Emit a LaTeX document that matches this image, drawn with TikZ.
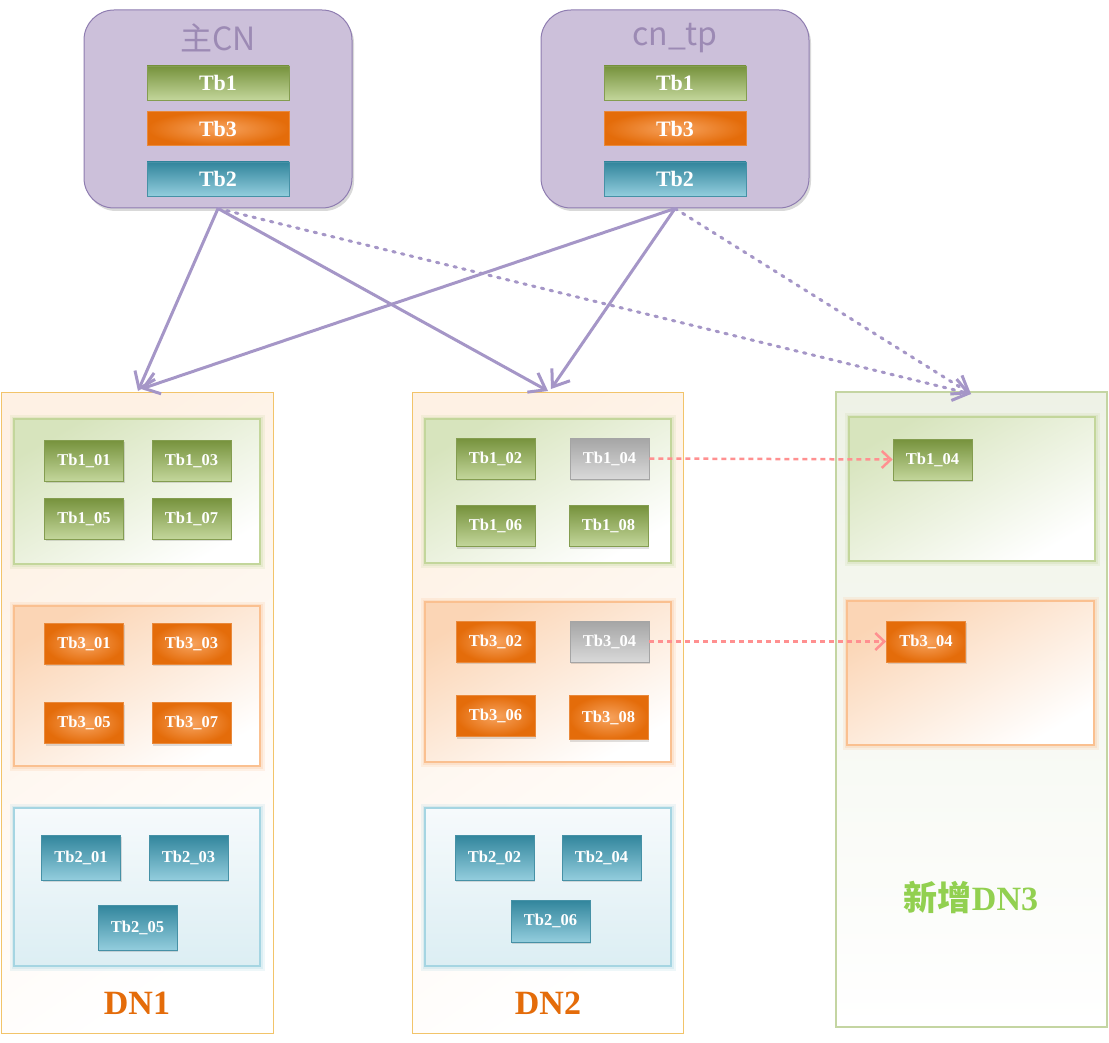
\documentclass[tikz,border=0pt]{standalone}
\usepackage{fontspec}
\setmainfont{Liberation Serif}
\newfontfamily\cjk{Noto Sans CJK SC}
\usetikzlibrary{arrows.meta,shadows}

% palette
\definecolor{cnfill}{HTML}{CCC0DA}
\definecolor{cnline}{HTML}{8E7CB0}
\definecolor{cntitle}{HTML}{9C8AB4}
\definecolor{link}{HTML}{A596C7}
\definecolor{move}{HTML}{FF9090}
\definecolor{gtop}{HTML}{76923C}
\definecolor{gbot}{HTML}{C3D69B}
\definecolor{oout}{HTML}{E46C0A}
\definecolor{oin}{HTML}{F7A35E}
\definecolor{btop}{HTML}{31859C}
\definecolor{bbot}{HTML}{93CDDD}
\definecolor{ytop}{HTML}{A5A5A5}
\definecolor{ybot}{HTML}{D9D9D9}
\definecolor{grpg}{HTML}{D7E4BD}
\definecolor{grpgline}{HTML}{C3D69B}
\definecolor{grpo}{HTML}{FBD5B5}
\definecolor{grpoline}{HTML}{FAC090}
\definecolor{grpbtop}{HTML}{F6FAFC}
\definecolor{grpbbot}{HTML}{DCEEF3}
\definecolor{grpbline}{HTML}{A5D5E2}
\definecolor{dnline}{HTML}{F2C46A}
\definecolor{dnfill}{HTML}{FEF1E4}
\definecolor{newline}{HTML}{C4D5A2}
\definecolor{newfill}{HTML}{EEF2E6}
\definecolor{dnlabel}{HTML}{E46C0A}
\definecolor{newlabel}{HTML}{92D050}

\begin{document}
\begin{tikzpicture}[x=1pt,y=-1pt,
  cnbox/.style={draw=cnline, line width=1pt, fill=cnfill, rounded corners=30pt,
    minimum width=268pt, minimum height=198pt, inner sep=0pt,
    drop shadow={shadow xshift=2pt, shadow yshift=-3pt, opacity=0.25, fill=black!60}},
  cntext/.style={text=cntitle, font=\cjk\fontsize{32}{32}\selectfont},
  bar/.style={minimum width=142pt, minimum height=34pt, inner sep=0pt,
    text=white, font=\bfseries\fontsize{22}{22}\selectfont},
  tbox/.style={minimum width=79pt, minimum height=41pt, inner sep=0pt,
    text=white, font=\bfseries\fontsize{16.5}{16.5}\selectfont,
    drop shadow={shadow xshift=1pt, shadow yshift=-2pt, opacity=0.12, fill=black}},
  green/.style={draw=gtop!90, line width=0.8pt, top color=gtop, bottom color=gbot},
  orange/.style={draw=oout!80, line width=0.8pt, inner color=oin, outer color=oout},
  blue/.style={draw=btop!90, line width=0.8pt, top color=btop, bottom color=bbot},
  grey/.style={draw=ytop, line width=0.8pt, top color=ytop, bottom color=ybot},
  dnframe/.style={draw=dnline, line width=1pt, top color=dnfill, bottom color=white,
    shading angle=35, minimum width=272pt, minimum height=641pt, inner sep=0pt},
  newframe/.style={draw=newline, line width=1.4pt, top color=newfill, bottom color=white,
    minimum width=271pt, minimum height=635pt, inner sep=0pt},
  grp/.style={draw=#1, line width=1.3pt, minimum width=246pt, inner sep=0pt,
    preaction={draw=#1, line width=9pt, opacity=0.18},
    preaction={draw=#1, line width=5pt, opacity=0.25}},
  ggrp/.style={grp=grpgline, top color=grpg, bottom color=white, shading angle=30},
  ogrp/.style={grp=grpoline, top color=grpo, bottom color=white, shading angle=30},
  bgrp/.style={grp=grpbline, top color=grpbtop, bottom color=grpbbot},
  dnlab/.style={text=dnlabel, font=\bfseries\fontsize{34}{34}\selectfont},
  conn/.style={draw=link, line width=3pt, -{Straight Barb[length=15pt,width=22pt,line width=3pt]}},
  plan/.style={conn, line cap=round, dash pattern=on 2.5pt off 6.5pt},
  mv/.style={draw=move, line width=2.5pt, dash pattern=on 5pt off 4pt,
    -{Straight Barb[length=9pt,width=17pt,line width=2.5pt]}}
]
\useasboundingbox (0,0) rectangle (1109,1043);

% ---- data node frames ----
\node[dnframe] (dn1) at (137,712.5) {};
\node[dnframe, minimum width=271pt] (dn2) at (547.5,712.5) {};
\node[newframe] (dn3) at (971.5,709.5) {};

% ---- table groups on DN1 ----
\node[ggrp, minimum height=145pt] (d1g) at (137,491.5) {};
\node[ogrp, minimum height=160pt] (d1o) at (137,686) {};
\node[bgrp, minimum height=158pt] (d1b) at (137,887) {};
% ---- table groups on DN2 ----
\node[ggrp, minimum height=144pt] (d2g) at (548,491) {};
\node[ogrp, minimum height=160pt] (d2o) at (548,682) {};
\node[bgrp, minimum height=158pt] (d2b) at (548,887) {};
% ---- table groups on DN3 ----
\node[ggrp, minimum height=144pt] (d3g) at (972,489) {};
\node[ogrp, minimum height=144pt, minimum width=247pt] (d3o) at (970.5,673) {};

% ---- DN1 shards ----
\node[tbox, green] (a101) at (84,460.5) {Tb1\_01};
\node[tbox, green] (a103) at (191.5,460.5) {Tb1\_03};
\node[tbox, green] (a105) at (84,518.5) {Tb1\_05};
\node[tbox, green] (a107) at (191.5,518.5) {Tb1\_07};
\node[tbox, orange] (a301) at (84,643.5) {Tb3\_01};
\node[tbox, orange] (a303) at (191.5,643.5) {Tb3\_03};
\node[tbox, orange] (a305) at (84,723) {Tb3\_05};
\node[tbox, orange] (a307) at (191.5,723) {Tb3\_07};
\node[tbox, blue, minimum height=45pt] (a201) at (81,857.5) {Tb2\_01};
\node[tbox, blue, minimum height=45pt] (a203) at (188.5,857.5) {Tb2\_03};
\node[tbox, blue, minimum height=45pt] (a205) at (137.5,927.5) {Tb2\_05};

% ---- DN2 shards ----
\node[tbox, green] (b102) at (495.5,458.5) {Tb1\_02};
\node[tbox, grey] (b104) at (609.5,458.5) {Tb1\_04};
\node[tbox, green] (b106) at (495.5,526) {Tb1\_06};
\node[tbox, green] (b108) at (608.5,526) {Tb1\_08};
\node[tbox, orange] (b302) at (495.5,641.5) {Tb3\_02};
\node[tbox, grey] (b304) at (609.5,641.5) {Tb3\_04};
\node[tbox, orange] (b306) at (495.5,716) {Tb3\_06};
\node[tbox, orange, minimum height=44pt] (b308) at (608.5,717.5) {Tb3\_08};
\node[tbox, blue, minimum height=45pt] (b202) at (494.5,857.5) {Tb2\_02};
\node[tbox, blue, minimum height=45pt] (b204) at (601.5,857.5) {Tb2\_04};
\node[tbox, blue, minimum height=42pt] (b206) at (550.5,921) {Tb2\_06};

% ---- DN3 shards ----
\node[tbox, green] (c104) at (932.5,459.5) {Tb1\_04};
\node[tbox, orange] (c304) at (926,641.5) {Tb3\_04};

% ---- node labels ----
\node[dnlab] (l1) at (137,1003) {DN1};
\node[dnlab] (l2) at (548,1003) {DN2};
\node[text=newlabel, font=\bfseries\fontsize{34}{34}\selectfont] (l3) at (971,897)
  {{\cjk\bfseries 新增}DN3};

% ---- coordinator nodes ----
\node[cnbox] (cn1) at (218,109) {};
\node[cntext] (cn1t) at (218,38) {主CN};
\node[bar, green] (cn1a) at (218,83) {Tb1};
\node[bar, orange] (cn1c) at (218,128.5) {Tb3};
\node[bar, blue] (cn1b) at (218,179) {Tb2};

\node[cnbox] (cn2) at (675,109) {};
\node[cntext] (cn2t) at (675,38) {cn\_tp};
\node[bar, green] (cn2a) at (675,83) {Tb1};
\node[bar, orange] (cn2c) at (675,128.5) {Tb3};
\node[bar, blue] (cn2b) at (675,179) {Tb2};

% ---- arrow targets on the data nodes ----
\coordinate (t11) at (138,391);
\coordinate (t12) at (141,389);
\coordinate (t21) at (548,391);
\coordinate (t22) at (551,389);
\coordinate (t3) at (971,394);

% ---- connections ----
\draw[conn] (cn1.south) -- (t11);
\draw[conn] (cn1.south) -- (t21);
\draw[plan] (cn1.south) -- (t3);
\draw[conn] (cn2.south) -- (t12);
\draw[conn] (cn2.south) -- (t22);
\draw[plan] (cn2.south) -- (t3);

% ---- shard moves to DN3 ----
\draw[mv] (b104.east) -- (c104.west);
\draw[mv] (b304.east) -- (c304.west);
\end{tikzpicture}
\end{document}
